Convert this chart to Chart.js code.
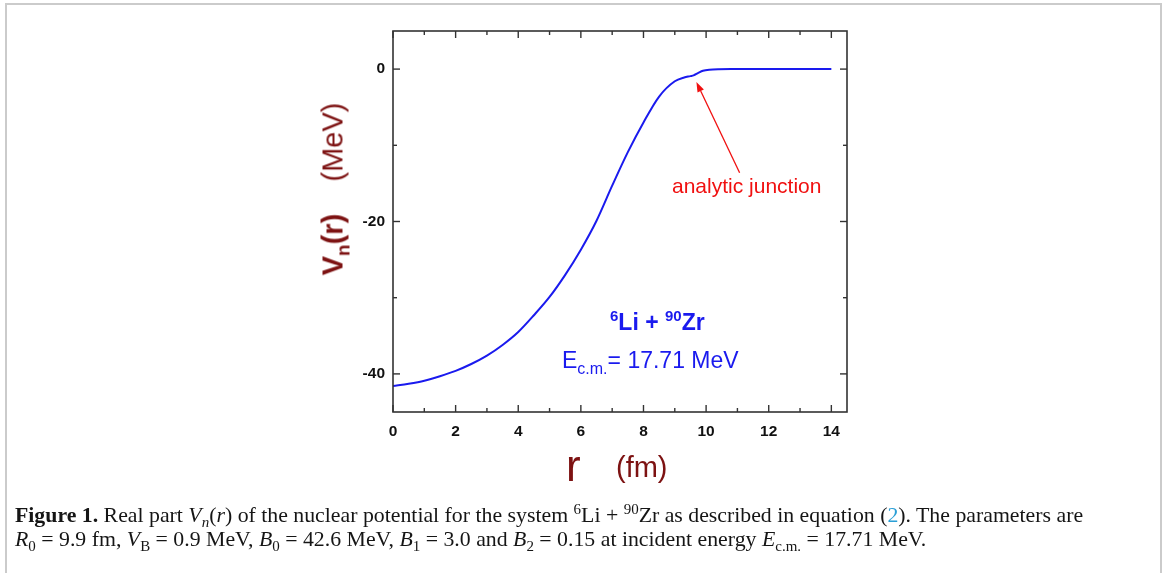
<!DOCTYPE html>
<html>
<head>
<meta charset="utf-8">
<script src="https://cdn.jsdelivr.net/npm/chart.js@4.4.1/dist/chart.umd.min.js"></script>
<style>
  html, body { margin: 0; padding: 0; background: #fff; }
  body { width: 1165px; height: 573px; position: relative; overflow: hidden; font-family: "Liberation Sans", Arial, sans-serif; }
  #frame { position: absolute; left: 5px; top: 3px; width: 1153px; height: 600px; border: 2px solid #cbcbcb; border-bottom: none; }
  #wrap { position: absolute; left: 0; top: 0; width: 1165px; height: 573px; }
  .lbl { position: absolute; white-space: nowrap; line-height: 1; }
  .maroon { color: #7d1212; }
  .blue { color: #1a1aee; }
  #ytitle { position: absolute; left: 333px; top: 189px; transform: translate(-50%, -50%) rotate(-90deg); white-space: nowrap; font-size: 29px; line-height: 1; }
  #caption { position: absolute; left: 15px; top: 503px; font-family: "Liberation Serif", "DejaVu Serif", serif; font-size: 21.8px; line-height: 24px; color: #151515; white-space: nowrap; }
  #caption i { font-style: italic; }
  sub, sup { line-height: 0; }
</style>
</head>
<body>
<div id="frame"></div>
<div id="wrap"><canvas id="c" width="1165" height="573"></canvas></div>

<div id="ytitle" class="maroon"><b>V<sub style="font-size:19px">n</sub>(r)</b>&nbsp;&nbsp;&nbsp;&nbsp;(MeV)</div>
<div class="lbl maroon" style="left:566px; top:444px; font-size:44px;">r</div>
<div class="lbl maroon" style="left:616px; top:453px; font-size:29px;">(fm)</div>
<div class="lbl" style="left:672px; top:175px; font-size:21px; color:#f01010;">analytic junction</div>
<div class="lbl blue" style="left:610px; top:311px; font-size:23px; font-weight:bold;"><sup style="font-size:15px">6</sup>Li + <sup style="font-size:15px">90</sup>Zr</div>
<div class="lbl blue" style="left:562px; top:349px; font-size:23px;">E<sub style="font-size:16px">c.m.</sub>= 17.71 MeV</div>

<div id="caption"><b>Figure 1.</b> Real part <i>V<sub style="font-size:15px">n</sub></i>(<i>r</i>) of the nuclear potential for the system <sup style="font-size:15px">6</sup>Li + <sup style="font-size:15px">90</sup>Zr as described in equation (<span style="color:#2a9fd6">2</span>). The parameters are<br><i>R</i><sub style="font-size:15px">0</sub> = 9.9 fm, <i>V</i><sub style="font-size:15px">B</sub> = 0.9 MeV, <i>B</i><sub style="font-size:15px">0</sub> = 42.6 MeV, <i>B</i><sub style="font-size:15px">1</sub> = 3.0 and <i>B</i><sub style="font-size:15px">2</sub> = 0.15 at incident energy <i>E</i><sub style="font-size:15px">c.m.</sub> = 17.71 MeV.</div>

<script>
// ---- data ----
const rValues = [0, 0.5, 1.0, 1.5, 2.0, 2.5, 3.0, 3.5, 4.0, 4.5, 5.0, 5.5, 6.0, 6.5, 7.0, 7.5, 8.0, 8.5, 9.0, 9.3, 9.5, 9.6, 9.75, 9.9, 10.1, 10.4, 10.8, 11, 12, 13, 14];
const vValues = [-41.6, -41.3, -40.9, -40.3, -39.6, -38.7, -37.6, -36.2, -34.5, -32.3, -29.9, -27.0, -23.7, -19.9, -15.3, -10.9, -7.0, -3.6, -1.6, -1.1, -0.92, -0.82, -0.5, -0.22, -0.07, -0.01, 0, 0, 0, 0, 0];
const xTickValues = [0, 2, 4, 6, 8, 10, 12, 14];
const xMinorValues = [1, 3, 5, 7, 9, 11, 13];
const yTickValues = [-40, -20, 0];
const yMinorValues = [-30, -10];
const arrowFrom = [11.07, -13.6];
const arrowTo = [9.69, -1.7];

const points = rValues.map((r, i) => ({ x: r, y: vValues[i] }));

const boxPlugin = {
  id: 'box',
  afterDatasetsDraw(chart) {
    const { ctx, chartArea: a, scales: { x, y } } = chart;
    ctx.save();
    ctx.strokeStyle = '#333';
    ctx.lineWidth = 1.6;
    ctx.strokeRect(a.left, a.top, a.right - a.left, a.bottom - a.top);
    ctx.lineWidth = 1.4;
    const vt = (px, len) => {
      ctx.beginPath(); ctx.moveTo(px, a.bottom); ctx.lineTo(px, a.bottom - len); ctx.stroke();
      ctx.beginPath(); ctx.moveTo(px, a.top); ctx.lineTo(px, a.top + len); ctx.stroke();
    };
    const ht = (py, len) => {
      ctx.beginPath(); ctx.moveTo(a.left, py); ctx.lineTo(a.left + len, py); ctx.stroke();
      ctx.beginPath(); ctx.moveTo(a.right, py); ctx.lineTo(a.right - len, py); ctx.stroke();
    };
    xTickValues.forEach(v => vt(x.getPixelForValue(v), 7));
    xMinorValues.forEach(v => vt(x.getPixelForValue(v), 4));
    yTickValues.forEach(v => ht(y.getPixelForValue(v), 7));
    yMinorValues.forEach(v => ht(y.getPixelForValue(v), 4));
    // arrow
    const x0 = x.getPixelForValue(arrowFrom[0]), y0 = y.getPixelForValue(arrowFrom[1]);
    const x1 = x.getPixelForValue(arrowTo[0]), y1 = y.getPixelForValue(arrowTo[1]);
    ctx.strokeStyle = '#f01010'; ctx.fillStyle = '#f01010'; ctx.lineWidth = 1.3;
    const ang = Math.atan2(y1 - y0, x1 - x0);
    const hl = 10, hw = 3.5;
    const bx = x1 - hl * Math.cos(ang), by = y1 - hl * Math.sin(ang);
    ctx.beginPath(); ctx.moveTo(x0, y0); ctx.lineTo(bx, by); ctx.stroke();
    ctx.beginPath();
    ctx.moveTo(x1, y1);
    ctx.lineTo(bx + hw * Math.sin(ang), by - hw * Math.cos(ang));
    ctx.lineTo(bx - hw * Math.sin(ang), by + hw * Math.cos(ang));
    ctx.closePath(); ctx.fill();
    ctx.restore();
  }
};

new Chart(document.getElementById('c'), {
  type: 'scatter',
  data: {
    datasets: [{
      data: points,
      showLine: true,
      borderColor: '#1a1aee',
      borderWidth: 2,
      pointRadius: 0,
      cubicInterpolationMode: 'monotone',
      fill: false
    }]
  },
  options: {
    responsive: false,
    animation: false,
    events: [],
    layout: { padding: { left: 343, top: 31, right: 318, bottom: 131 } },
    plugins: { legend: { display: false }, tooltip: { enabled: false } },
    scales: {
      x: {
        type: 'linear', min: 0, max: 14.5,
        grid: { display: false, drawTicks: false },
        border: { display: false },
        afterBuildTicks: s => { s.ticks = xTickValues.map(v => ({ value: v })); },
        afterFit: s => { s.height = 30; },
        ticks: { padding: 10, color: '#111', font: { family: 'Liberation Sans', size: 15.5, weight: 'bold' } }
      },
      y: {
        type: 'linear', min: -45, max: 5,
        grid: { display: false, drawTicks: false },
        border: { display: false },
        afterBuildTicks: s => { s.ticks = yTickValues.map(v => ({ value: v })); },
        afterFit: s => { s.width = 50; },
        ticks: { padding: 8, color: '#111', font: { family: 'Liberation Sans', size: 15.5, weight: 'bold' } }
      }
    }
  },
  plugins: [boxPlugin]
});
</script>
</body>
</html>
